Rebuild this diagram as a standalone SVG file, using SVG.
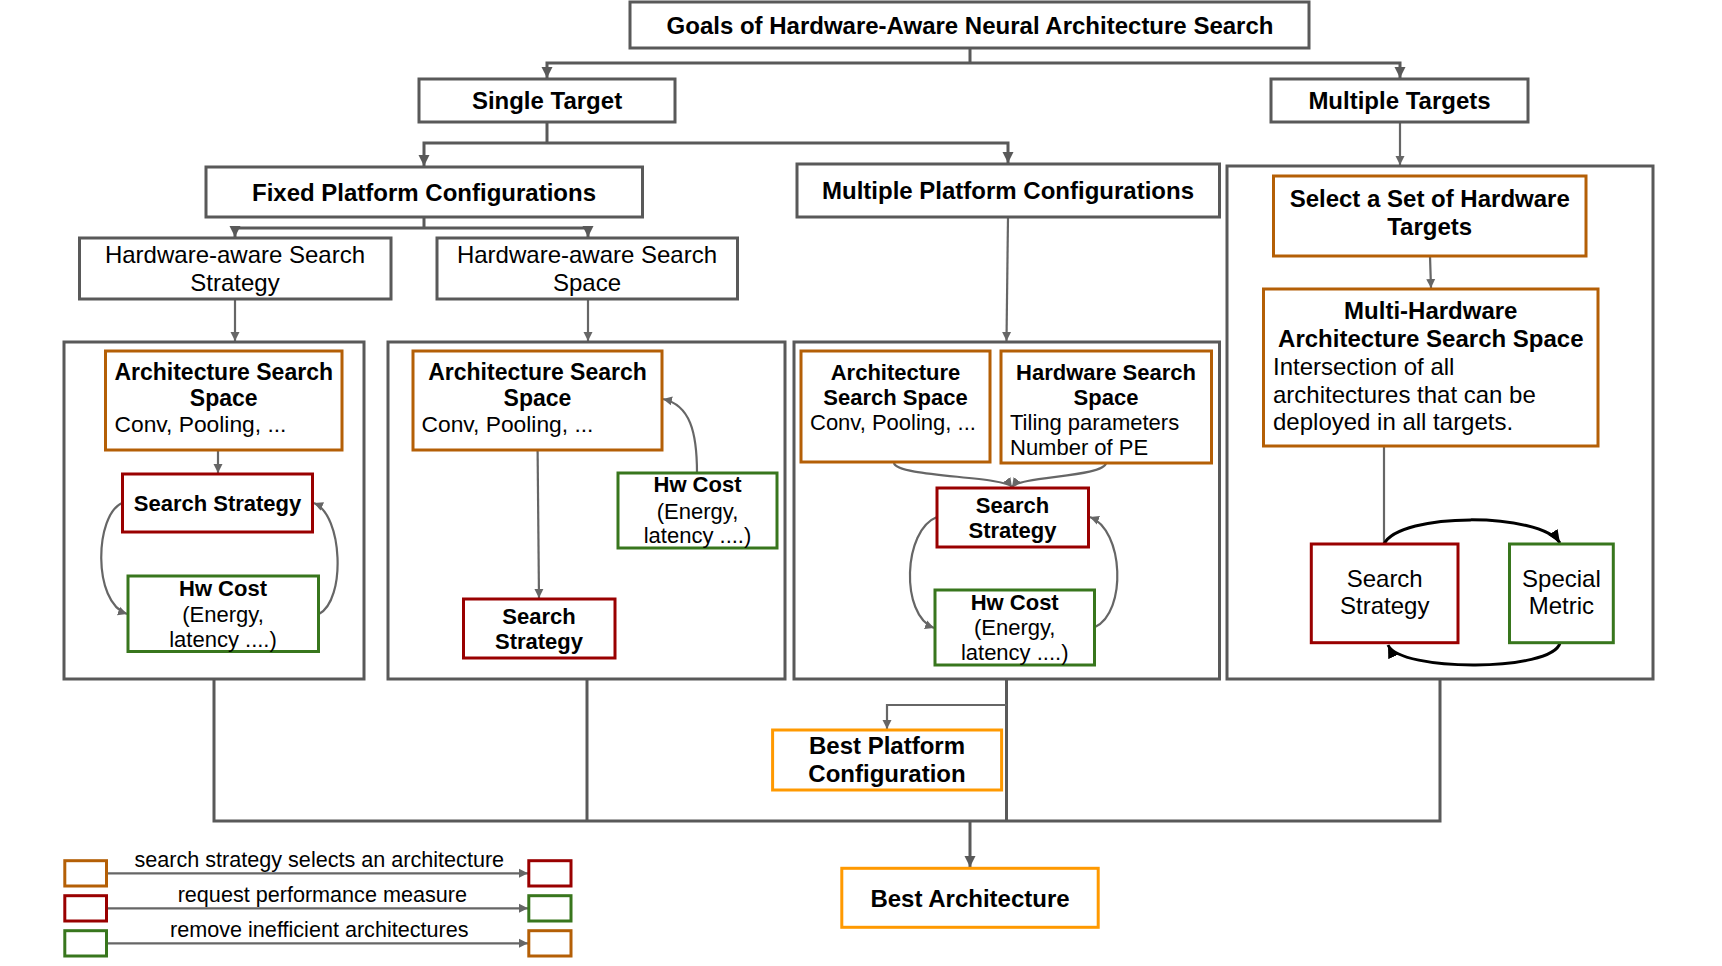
<svg xmlns="http://www.w3.org/2000/svg" width="1722" height="966" viewBox="0 0 1722 966">
<style>
.box{fill:#fff;stroke:#595959;stroke-width:3}
.cont{fill:none;stroke:#595959;stroke-width:3}
.org{fill:#fff;stroke:#b45f06;stroke-width:3}
.red{fill:#fff;stroke:#990000;stroke-width:3}
.grn{fill:#fff;stroke:#38761d;stroke-width:3}
.best{fill:#fff;stroke:#ff9900;stroke-width:3}
text{font-family:"Liberation Sans",Arial,sans-serif;fill:#000}
.b24{font-size:24px;font-weight:bold}
.r24{font-size:24px}
.b23{font-size:23px;font-weight:bold}
.r23{font-size:22.8px}
.b22{font-size:22px;font-weight:bold}
.r22{font-size:22px}
.lg{font-size:21.6px}
.c{text-anchor:middle}
.ln{fill:none;stroke:#595959;stroke-width:3}
.ln2{fill:none;stroke:#666;stroke-width:2.2}
.lnk{fill:none;stroke:#000;stroke-width:3}
</style>
<defs>
<marker id="a" markerUnits="userSpaceOnUse" markerWidth="12" markerHeight="12" refX="11" refY="6" orient="auto"><path d="M0,0.5 L11,6 L0,11.5 z" fill="#595959"/></marker>
<marker id="s" markerUnits="userSpaceOnUse" markerWidth="10" markerHeight="10" refX="9" refY="5" orient="auto"><path d="M0,0.5 L9,5 L0,9.5 z" fill="#666"/></marker>
<marker id="k" markerUnits="userSpaceOnUse" markerWidth="14" markerHeight="12" refX="13" refY="6" orient="auto"><path d="M0,0.5 L13,6 L0,11.5 z" fill="#000"/></marker>
</defs>

<g id="connectors">
<path class="ln" d="M970,48 V63"/>
<path class="ln" d="M970,63 H547 V78" marker-end="url(#a)"/>
<path class="ln" d="M970,63 H1400 V78" marker-end="url(#a)"/>
<path class="ln" d="M547,122 V143"/>
<path class="ln" d="M547,143 H424 V166" marker-end="url(#a)"/>
<path class="ln" d="M547,143 H1008 V163" marker-end="url(#a)"/>
<path class="ln" d="M424,217 V228"/>
<path class="ln" d="M424,228 H235 V237" marker-end="url(#a)"/>
<path class="ln" d="M424,228 H588 V237" marker-end="url(#a)"/>
<path class="ln2" d="M235,299 V341" marker-end="url(#s)"/>
<path class="ln2" d="M588,299 V341" marker-end="url(#s)"/>
<path class="ln2" d="M1008,217 L1006.5,341" marker-end="url(#s)"/>
<path class="ln2" d="M1400,122 V165" marker-end="url(#s)"/>
<path class="ln2" d="M1430,256 L1431,288" marker-end="url(#s)"/>
<path class="ln2" d="M218,450 V473" marker-end="url(#s)"/>
<path class="ln2" d="M122,503 C95,515 92,602 127,614" marker-end="url(#s)"/>
<path class="ln2" d="M319,614 C346,600 343,515 314,503" marker-end="url(#s)"/>
<path class="ln2" d="M537.6,450 L539,598" marker-end="url(#s)"/>
<path class="ln2" d="M697,473 C697,432 690,405 663,399" marker-end="url(#s)"/>
<path class="ln2" d="M894,463 C896,477 1004,476 1012,487" marker-end="url(#s)"/>
<path class="ln2" d="M1106,463 C1104,477 1020,476 1012,487" marker-end="url(#s)"/>
<path class="ln2" d="M937,517 C903,530 900,615 934,628" marker-end="url(#s)"/>
<path class="ln2" d="M1095,627 C1127,612 1124,530 1090,517" marker-end="url(#s)"/>
<path class="ln2" d="M1384,446 V544"/>
<path class="lnk" d="M1384,544 C1400,512 1540,512 1560,543" marker-end="url(#k)"/>
<path class="lnk" d="M1560,643 C1552,672 1400,672 1388,645" marker-end="url(#k)"/>
<path class="ln" d="M214,679 V821 H1440 V679"/>
<path class="ln" d="M587,679 V821"/>
<path class="ln" d="M1006.5,679 V821"/>
<path class="ln2" d="M1006.5,705 H887 V729" marker-end="url(#s)"/>
<path class="ln" d="M970,821 V867" marker-end="url(#a)"/>
<path class="ln2" d="M106.5,873.3 H528" marker-end="url(#s)"/>
<path class="ln2" d="M106.5,908.3 H528" marker-end="url(#s)"/>
<path class="ln2" d="M106.5,943.3 H528" marker-end="url(#s)"/>
</g>

<g id="goals"><rect class="box" x="630" y="2" width="679" height="46"/><text class="b24 c" x="970" y="33.5">Goals of Hardware-Aware Neural Architecture Search</text></g>
<g id="single-target"><rect class="box" x="419" y="79" width="256" height="43"/><text class="b24 c" x="547" y="109">Single Target</text></g>
<g id="multiple-targets"><rect class="box" x="1271" y="79" width="257" height="43"/><text class="b24 c" x="1399.5" y="109">Multiple Targets</text></g>
<g id="fixed-platform"><rect class="box" x="206" y="167" width="436.5" height="50"/><text class="b24 c" x="424" y="200.5">Fixed Platform Configurations</text></g>
<g id="multiple-platform"><rect class="box" x="797" y="164" width="422.5" height="53"/><text class="b24 c" x="1008" y="199">Multiple Platform Configurations</text></g>
<g id="hw-search-strategy"><rect class="box" x="79.5" y="238" width="311.5" height="61"/><text class="r24 c" x="235" y="263">Hardware-aware Search</text><text class="r24 c" x="235" y="291">Strategy</text></g>
<g id="hw-search-space"><rect class="box" x="437" y="238" width="300.5" height="61"/><text class="r24 c" x="587" y="263">Hardware-aware Search</text><text class="r24 c" x="587" y="291">Space</text></g>

<g id="container1"><rect class="cont" x="64" y="342" width="300" height="337"/></g>
<g id="container2"><rect class="cont" x="388" y="342" width="397" height="337"/></g>
<g id="container3"><rect class="cont" x="794" y="342" width="425.5" height="337"/></g>
<g id="container4"><rect class="cont" x="1227" y="166" width="426" height="513"/></g>

<g id="c1-arch"><rect class="org" x="105.5" y="351" width="236.5" height="99"/><text class="b23 c" x="223.7" y="380">Architecture Search</text><text class="b23 c" x="223.7" y="406">Space</text><text class="r23" x="114.5" y="432">Conv, Pooling, ...</text></g>
<g id="c1-strategy"><rect class="red" x="122.5" y="474" width="190" height="58"/><text class="b22 c" x="217.5" y="510.5">Search Strategy</text></g>
<g id="c1-hwcost"><rect class="grn" x="128" y="576" width="190.5" height="75.5"/><text class="b22 c" x="223" y="596">Hw Cost</text><text class="r22 c" x="223" y="621.5">(Energy,</text><text class="r22 c" x="223" y="646.5">latency ....)</text></g>

<g id="c2-arch"><rect class="org" x="413" y="351" width="249" height="99"/><text class="b23 c" x="537.5" y="380">Architecture Search</text><text class="b23 c" x="537.5" y="406">Space</text><text class="r23" x="421.5" y="432">Conv, Pooling, ...</text></g>
<g id="c2-hwcost"><rect class="grn" x="618" y="473" width="159" height="75"/><text class="b22 c" x="697.5" y="492">Hw Cost</text><text class="r22 c" x="697.5" y="519">(Energy,</text><text class="r22 c" x="697.5" y="542.5">latency ....)</text></g>
<g id="c2-strategy"><rect class="red" x="463.5" y="599" width="151.5" height="59"/><text class="b22 c" x="539" y="624">Search</text><text class="b22 c" x="539" y="649">Strategy</text></g>

<g id="c3-arch"><rect class="org" x="801" y="351" width="189" height="111"/><text class="b22 c" x="895.5" y="379.5">Architecture</text><text class="b22 c" x="895.5" y="405">Search Space</text><text class="r22" x="810" y="430">Conv, Pooling, ...</text></g>
<g id="c3-hw"><rect class="org" x="1001" y="351" width="210.5" height="112"/><text class="b22 c" x="1106" y="379.5">Hardware Search</text><text class="b22 c" x="1106" y="405">Space</text><text class="r22" x="1010" y="430">Tiling parameters</text><text class="r22" x="1010" y="455">Number of PE</text></g>
<g id="c3-strategy"><rect class="red" x="937" y="488" width="151.5" height="59"/><text class="b22 c" x="1012.5" y="512.5">Search</text><text class="b22 c" x="1012.5" y="537.5">Strategy</text></g>
<g id="c3-hwcost"><rect class="grn" x="935" y="590" width="159.5" height="75"/><text class="b22 c" x="1014.7" y="609.5">Hw Cost</text><text class="r22 c" x="1014.7" y="635">(Energy,</text><text class="r22 c" x="1014.7" y="660">latency ....)</text></g>

<g id="c4-select"><rect class="org" x="1273.5" y="176" width="312.5" height="80"/><text class="b24 c" x="1429.7" y="206.5">Select a Set of Hardware</text><text class="b24 c" x="1429.7" y="235">Targets</text></g>
<g id="c4-multi"><rect class="org" x="1263.5" y="289" width="334.5" height="157"/><text class="b24 c" x="1430.8" y="319">Multi-Hardware</text><text class="b24 c" x="1430.8" y="346.7">Architecture Search Space</text><text class="r24" x="1273" y="375">Intersection of all</text><text class="r24" x="1273" y="402.7">architectures that can be</text><text class="r24" x="1273" y="430">deployed in all targets.</text></g>
<g id="c4-strategy"><rect class="red" x="1311.3" y="544" width="146.7" height="98.7"/><text class="r24 c" x="1384.7" y="586.7">Search</text><text class="r24 c" x="1384.7" y="614">Strategy</text></g>
<g id="c4-metric"><rect class="grn" x="1509.5" y="544" width="103.8" height="98.7"/><text class="r24 c" x="1561.4" y="586.7">Special</text><text class="r24 c" x="1561.4" y="614">Metric</text></g>

<g id="best-platform"><rect class="best" x="772.6" y="730" width="229" height="60"/><text class="b24 c" x="887" y="754">Best Platform</text><text class="b24 c" x="887" y="781.7">Configuration</text></g>
<g id="best-architecture"><rect class="best" x="841.8" y="868.3" width="256.4" height="59"/><text class="b24 c" x="970" y="906.7">Best Architecture</text></g>

<g id="legend">
<rect class="org" x="64.8" y="860.7" width="41.7" height="25.3"/>
<rect class="red" x="528.8" y="860.7" width="42.2" height="25.3"/>
<text class="lg c" x="319.3" y="866.7">search strategy selects an architecture</text>
<rect class="red" x="64.8" y="895.7" width="41.7" height="25.3"/>
<rect class="grn" x="528.8" y="895.7" width="42.2" height="25.3"/>
<text class="lg c" x="322.3" y="901.7">request performance measure</text>
<rect class="grn" x="64.8" y="930.7" width="41.7" height="25.3"/>
<rect class="org" x="528.8" y="930.7" width="42.2" height="25.3"/>
<text class="lg c" x="319.3" y="936.7">remove inefficient architectures</text>
</g>
</svg>
